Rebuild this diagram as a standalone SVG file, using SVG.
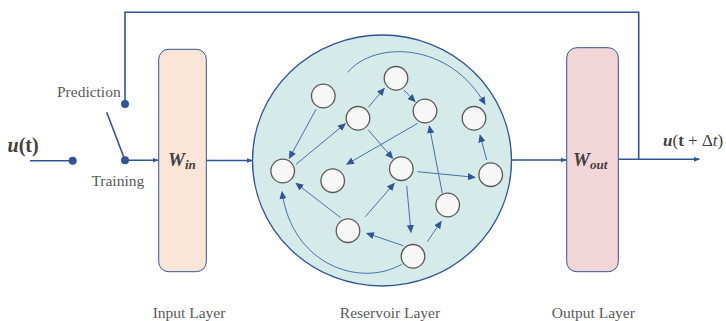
<svg xmlns="http://www.w3.org/2000/svg" width="726" height="321" viewBox="0 0 726 321">
<style>
.lbl{font-family:"Liberation Serif","Times New Roman",serif;font-size:15.5px;fill:#595959}
.math{font-family:"Liberation Serif","Times New Roman",serif;fill:#404040}
.main{stroke:#2F5597;stroke-width:1.6;fill:none}
.res{stroke:#4470AE;stroke-width:1;fill:none}
.node{fill:#F7F7F7;stroke:#595959;stroke-width:1.3}
.dot{fill:#2F5597}
</style>
<defs>
<marker id="ah" viewBox="0 0 10 10" refX="9" refY="5" markerWidth="6" markerHeight="6" markerUnits="userSpaceOnUse" orient="auto"><path d="M0,1 L10,5 L0,9 z" fill="#2F5597"/></marker>
<marker id="ar" viewBox="0 0 10 10" refX="9" refY="5" markerWidth="8" markerHeight="8" markerUnits="userSpaceOnUse" orient="auto"><path d="M0,0.5 L10,5 L0,9.5 z" fill="#2F5597"/></marker>
</defs>

<g id="input-layer">
<rect x="158.7" y="49.3" width="47.6" height="222.4" rx="10" fill="#FBE5D6" stroke="#2F5597" stroke-width="1"/>
<text class="math" x="168" y="166" font-size="19" font-weight="bold" font-style="italic">W<tspan font-size="13" dy="3">in</tspan></text>
</g>

<g id="reservoir">
<ellipse cx="382" cy="160.5" rx="129.5" ry="125.5" fill="#D5EBE9" stroke="#2F5597" stroke-width="1.3"/>
</g>

<g id="output-layer">
<rect x="566.7" y="47.7" width="51.6" height="224" rx="10" fill="#F2D5D7" stroke="#2F5597" stroke-width="1"/>
<text class="math" x="573" y="166" font-size="19" font-weight="bold" font-style="italic">W<tspan font-size="13" dy="3">out</tspan></text>
</g>

<g id="connectors">
<line class="main" x1="30" y1="160.7" x2="72.7" y2="160.7"/>
<line class="main" x1="106.7" y1="112.3" x2="125" y2="160.3"/>
<line class="main" x1="125" y1="160.3" x2="158" y2="160.3" marker-end="url(#ah)"/>
<polyline class="main" points="125,104 125,12.3 638.7,12.3 638.7,159.3"/>
<line class="main" x1="206.3" y1="160.5" x2="252.3" y2="160.5" marker-end="url(#ah)"/>
<line class="main" x1="511.5" y1="160" x2="566.2" y2="160" marker-end="url(#ah)"/>
<line class="main" x1="618.3" y1="159.3" x2="699.3" y2="159.3" marker-end="url(#ah)"/>

<line class="res" x1="316" y1="109.3" x2="289.3" y2="158.3" marker-end="url(#ar)"/>
<line class="res" x1="296" y1="164.3" x2="345.3" y2="123.7" marker-end="url(#ar)"/>
<line class="res" x1="368.3" y1="107.3" x2="384.3" y2="88.3" marker-end="url(#ar)"/>
<line class="res" x1="404" y1="90" x2="415" y2="101.7" marker-end="url(#ar)"/>
<line class="res" x1="417.7" y1="123.3" x2="346.7" y2="164.3" marker-end="url(#ar)"/>
<line class="res" x1="368.3" y1="130" x2="392.7" y2="158.3" marker-end="url(#ar)"/>
<line class="res" x1="417.3" y1="171.7" x2="475" y2="177.3" marker-end="url(#ar)"/>
<line class="res" x1="486.7" y1="160" x2="480" y2="135" marker-end="url(#ar)"/>
<line class="res" x1="442.3" y1="193.3" x2="429.3" y2="126" marker-end="url(#ar)"/>
<line class="res" x1="406.7" y1="185.7" x2="411" y2="232.3" marker-end="url(#ar)"/>
<line class="res" x1="403.3" y1="245.7" x2="366.7" y2="233.3" marker-end="url(#ar)"/>
<line class="res" x1="427.3" y1="241.7" x2="441.3" y2="221.3" marker-end="url(#ar)"/>
<line class="res" x1="340.7" y1="217.7" x2="296" y2="183.3" marker-end="url(#ar)"/>
<line class="res" x1="365.3" y1="216.7" x2="394.3" y2="183.3" marker-end="url(#ar)"/>
<path class="res" d="M347.7,72.3 C375,40 450,42 485,104.3" marker-end="url(#ar)"/>
<path class="res" d="M401.7,264.3 C360,288 292,265 282,191.7" marker-end="url(#ar)"/>
</g>

<g id="reservoir-nodes">
<circle class="node" cx="323.3" cy="96" r="11.8"/>
<circle class="node" cx="396" cy="78.3" r="11.8"/>
<circle class="node" cx="358" cy="118.3" r="11.8"/>
<circle class="node" cx="425" cy="111" r="11.8"/>
<circle class="node" cx="474" cy="118.3" r="11.8"/>
<circle class="node" cx="282.7" cy="171" r="11.8"/>
<circle class="node" cx="332.7" cy="180.7" r="11.8"/>
<circle class="node" cx="401.3" cy="168.7" r="11.8"/>
<circle class="node" cx="490.7" cy="174.7" r="11.8"/>
<circle class="node" cx="447.7" cy="205" r="11.8"/>
<circle class="node" cx="348" cy="230.7" r="11.8"/>
<circle class="node" cx="413" cy="256.3" r="11.8"/>
</g>

<g id="switch-dots">
<circle class="dot" cx="72.7" cy="160.7" r="4"/>
<circle class="dot" cx="125" cy="160.3" r="4"/>
<circle class="dot" cx="125" cy="104" r="4"/>
</g>

<g id="labels">
<text class="math" x="7.5" y="152" font-size="20" font-weight="bold"><tspan font-style="italic">u</tspan>(t)</text>
<text class="math" x="663" y="145.5" font-size="17"><tspan font-weight="bold" font-style="italic">u</tspan>(<tspan font-weight="bold">t</tspan> + Δ<tspan font-style="italic">t</tspan>)</text>
<text class="lbl" x="120.7" y="97" text-anchor="end">Prediction</text>
<text class="lbl" x="117.8" y="186" text-anchor="middle">Training</text>
<text class="lbl" x="189" y="317.5" text-anchor="middle">Input Layer</text>
<text class="lbl" x="390" y="317.5" text-anchor="middle">Reservoir Layer</text>
<text class="lbl" x="593.3" y="317.5" text-anchor="middle">Output Layer</text>
</g>
</svg>
